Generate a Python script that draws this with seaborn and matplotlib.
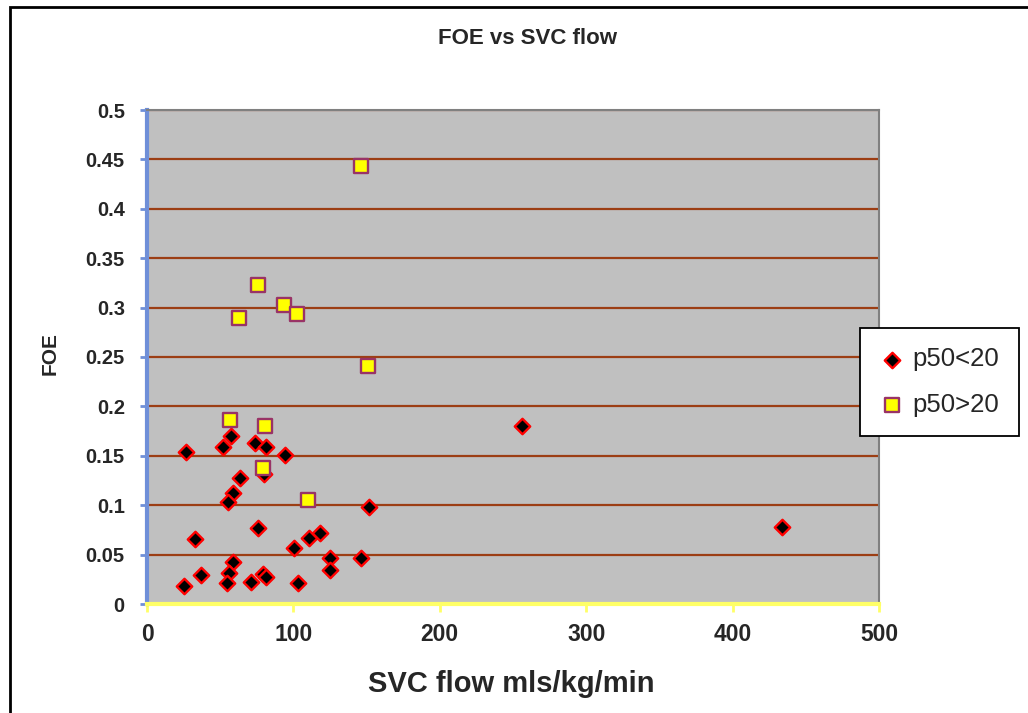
import matplotlib
matplotlib.use("Agg")
import matplotlib.pyplot as plt
import matplotlib.patches as mpatches
import seaborn as sns
import pandas as pd

# ---- data ----
low_x = [26.8, 52.2, 57.2, 73.8, 81.3, 94.2, 63.6, 80.1, 58.6, 55.6, 151.7, 76.1,
         32.9, 110.6, 118.5, 100.6, 124.9, 146.5, 58.6, 124.9, 37.0, 56.1, 79.0,
         81.5, 54.7, 71.1, 103.3, 25.4, 256.1, 433.9]
low_y = [0.154, 0.159, 0.170, 0.163, 0.159, 0.151, 0.128, 0.132, 0.112, 0.103, 0.098, 0.077,
         0.066, 0.067, 0.072, 0.057, 0.047, 0.047, 0.043, 0.034, 0.029, 0.031, 0.030,
         0.027, 0.021, 0.022, 0.021, 0.018, 0.180, 0.078]
high_x = [146.0, 75.6, 93.8, 102.6, 62.9, 151.0, 56.8, 80.6, 79.5, 110.1]
high_y = [0.443, 0.323, 0.303, 0.294, 0.289, 0.241, 0.186, 0.180, 0.138, 0.105]
series_names = ["p50<20", "p50>20"]
x_ticks = [0, 100, 200, 300, 400, 500]
y_ticks = [0, 0.05, 0.1, 0.15, 0.2, 0.25, 0.3, 0.35, 0.4, 0.45, 0.5]
y_tick_labels = ["0", "0.05", "0.1", "0.15", "0.2", "0.25", "0.3", "0.35", "0.4", "0.45", "0.5"]

df_low = pd.DataFrame({"x": low_x, "y": low_y})
df_high = pd.DataFrame({"x": high_x, "y": high_y})

sns.set_style("white")
plt.rcParams["font.family"] = ["Liberation Sans", "DejaVu Sans"]

fig = plt.figure(figsize=(10.28, 7.13), dpi=100)
ax = fig.add_axes([147 / 1028, 1 - 604 / 713, (879 - 147) / 1028, (604 - 110) / 713])
ax.set_facecolor("#C0C0C0")

for yv in y_ticks[1:]:
    ax.axhline(yv, color="#9C3E14", lw=1.6, zorder=1)

sns.scatterplot(data=df_low, x="x", y="y", ax=ax, marker="D", s=62,
                color="black", edgecolor="#FF0000", linewidth=1.7, zorder=3,
                label=series_names[0])
sns.scatterplot(data=df_high, x="x", y="y", ax=ax, marker="s", s=100,
                color="#FFFF00", edgecolor="#993366", linewidth=1.7, zorder=4,
                label=series_names[1])

ax.set_xlim(0, 500)
ax.set_ylim(0, 0.5)
ax.set_xticks(x_ticks)
ax.set_xticklabels([str(t) for t in x_ticks], fontsize=16.5, fontweight="bold")
ax.set_yticks(y_ticks)
ax.set_yticklabels(y_tick_labels, fontsize=14.5, fontweight="bold")
ax.set_xlabel("")
ax.set_ylabel("")

for side in ["top", "right"]:
    ax.spines[side].set_color("#808080")
    ax.spines[side].set_linewidth(1.5)
ax.spines["left"].set_color("#6F8FD8")
ax.spines["left"].set_linewidth(3)
ax.spines["bottom"].set_color("#FFFF66")
ax.spines["bottom"].set_linewidth(3)

ax.tick_params(axis="y", direction="out", length=5, width=2, color="#6F8FD8", pad=11, left=True)
ax.tick_params(axis="x", direction="out", length=6, width=2, color="#FFFF66", pad=8, bottom=True)

ax.legend_.remove()
handles, labels = ax.get_legend_handles_labels()
leg = fig.legend(handles, labels, loc="upper left",
                 bbox_to_anchor=(860 / 1028, 1 - 328 / 713),
                 frameon=True, fancybox=False, fontsize=18.5,
                 borderpad=0.75, labelspacing=0.85, handletextpad=0.3,
                 handlelength=1.0, borderaxespad=0)
leg.get_frame().set_edgecolor("black")
leg.get_frame().set_linewidth(1.3)
leg.get_frame().set_facecolor("white")
leg.get_frame().set_alpha(1)

fig.text(527 / 1028, 1 - 39 / 713, "FOE vs SVC flow", ha="center", va="center",
         fontsize=16, fontweight="bold")
fig.text(511 / 1028, 1 - 684 / 713, "SVC flow mls/kg/min", ha="center", va="center",
         fontsize=21, fontweight="bold")
fig.text(50 / 1028, 1 - 354 / 713, "FOE", ha="center", va="center", rotation=90,
         fontsize=15, fontweight="bold")

border = mpatches.Rectangle((10 / 1028, -0.2), 1.2, 1.2 - 7 / 713,
                            transform=fig.transFigure, fill=False,
                            edgecolor="black", linewidth=2, clip_on=False)
fig.patches.append(border)

fig.savefig("out.png", dpi=100)
